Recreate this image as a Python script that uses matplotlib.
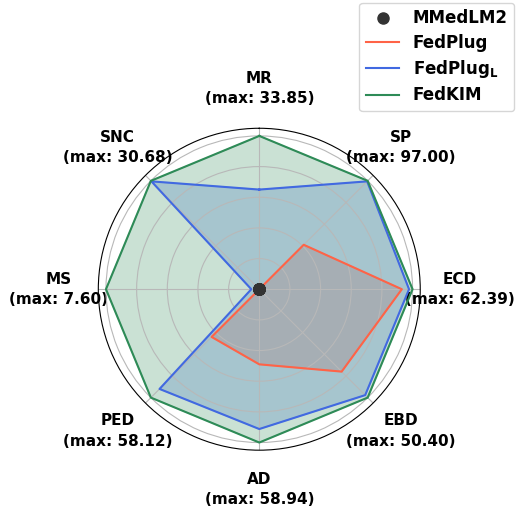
import numpy as np
import matplotlib
matplotlib.use("Agg")
import matplotlib.pyplot as plt

categories = ["MR", "SP", "ECD", "EBD", "AD", "PED", "MS", "SNC"]
max_values = ["33.85", "97.00", "62.39", "50.40", "58.94", "58.12", "7.60", "30.68"]

# normalised scores (value / max)
mmedlm2 = [0, 0, 0, 0, 0, 0, 0, 0]
fedplug = [0.0, 0.41, 0.93, 0.76, 0.49, 0.44, 0.0, 0.0]
fedplug_l = [0.65, 0.995, 0.977, 0.977, 0.912, 0.92, 0.052, 0.995]
fedkim = [1.0, 1.0, 1.0, 1.0, 1.0, 1.0, 1.0, 1.0]

series_names = ["FedPlug", r"FedPlug$_\mathbf{L}$", "FedKIM"]
series_vals = [fedplug, fedplug_l, fedkim]
series_colors = ["#FF6347", "#4169E1", "#2E8B57"]

n = len(categories)
angles = np.linspace(0, 2 * np.pi, n, endpoint=False)
ang_closed = np.concatenate([angles, angles[:1]])

fig = plt.figure(figsize=(5.17, 5.11), dpi=100)
ax = fig.add_axes([0.19, 0.119, 0.623, 0.63], projection="polar")
ax.set_theta_offset(np.pi / 2)
ax.set_theta_direction(-1)

ax.plot(ang_closed, np.concatenate([mmedlm2, mmedlm2[:1]]), "o", color="#333333",
        markersize=8, linestyle="none", label="MMedLM2", zorder=5)
for name, vals, col in zip(series_names, series_vals, series_colors):
    v = np.concatenate([vals, vals[:1]])
    ax.plot(ang_closed, v, color=col, linewidth=1.5, label=name)
    ax.fill(ang_closed, v, color=col, alpha=0.25)

ax.set_ylim(0, 1.05)
ax.set_yticks([0.2, 0.4, 0.6, 0.8, 1.0])
ax.set_yticklabels([])
ax.set_xticks(angles)
ax.set_xticklabels([f"{c}\n(max: {m})" for c, m in zip(categories, max_values)],
                   fontsize=11, fontweight="bold", linespacing=1.45)
ax.tick_params(axis="x", pad=18)
ax.grid(color="#b8b8b8", linewidth=0.8)

fig.legend(loc="upper right", bbox_to_anchor=(0.998, 0.998), borderaxespad=0.1,
           labelspacing=0.38, prop={"weight": "bold", "size": 12})

fig.savefig("out.png", dpi=100)
